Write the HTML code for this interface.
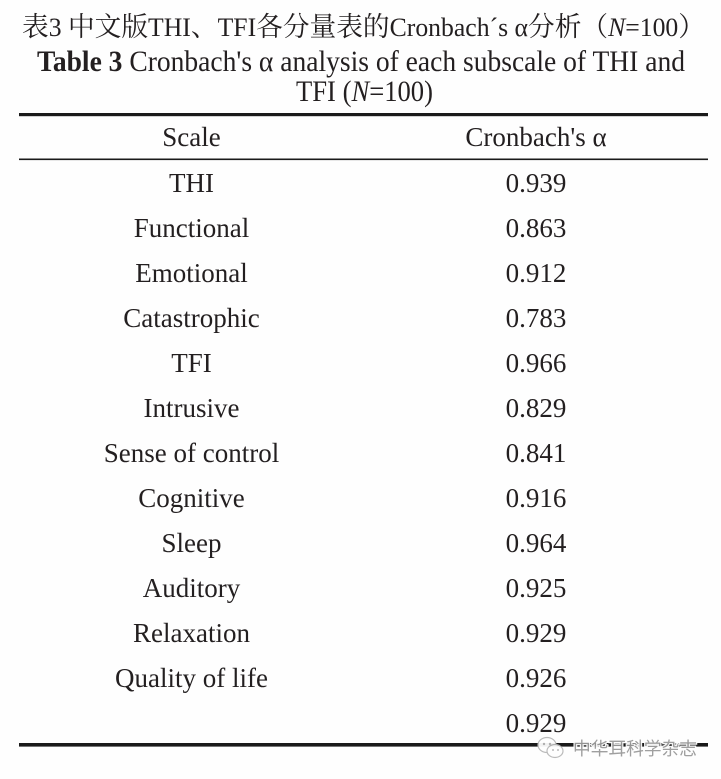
<!DOCTYPE html>
<html>
<head>
<meta charset="utf-8">
<style>
  html, body { margin:0; padding:0; background:#fefefe; }
  body { width:721px; height:779px; overflow:hidden; }
  svg { display:block; }
  .t { font-family:"Liberation Serif","Noto Serif CJK SC",serif; fill:#231f20; }
</style>
</head>
<body>
<svg width="721" height="779" viewBox="0 0 721 779" xmlns="http://www.w3.org/2000/svg">
  <rect x="0" y="0" width="721" height="779" fill="#fefefe"/>

  <!-- Title line 1 -->
  <text class="t" x="22" y="36" font-size="26" textLength="683" lengthAdjust="spacingAndGlyphs"><tspan font-family="Noto Serif CJK SC, serif" font-size="27">表</tspan>3  <tspan font-family="Noto Serif CJK SC, serif" font-size="27">中文版</tspan>THI<tspan font-family="Noto Serif CJK SC, serif" font-size="27">、</tspan>TFI<tspan font-family="Noto Serif CJK SC, serif" font-size="27">各分量表的</tspan>Cronbach´s α<tspan font-family="Noto Serif CJK SC, serif" font-size="27">分析（</tspan><tspan font-style="italic">N</tspan>=100<tspan font-family="Noto Serif CJK SC, serif" font-size="27">）</tspan></text>

  <!-- Title line 2 -->
  <text class="t" x="37" y="71" font-size="30" textLength="648" lengthAdjust="spacingAndGlyphs"><tspan font-weight="bold">Table 3</tspan>  Cronbach's α analysis of each subscale of THI and</text>

  <!-- Title line 3 -->
  <text class="t" x="296" y="101" font-size="30" textLength="137" lengthAdjust="spacingAndGlyphs">TFI (<tspan font-style="italic">N</tspan>=100)</text>

  <!-- Rules -->
  <rect x="19" y="113" width="689" height="3.2" fill="#1a1a1a"/>
  <rect x="19" y="158.5" width="689" height="1.6" fill="#1a1a1a"/>
  <rect x="19" y="743" width="689" height="3.6" fill="#1a1a1a"/>

  <!-- Header -->
  <text class="t" x="191.5" y="146" font-size="27" text-anchor="middle">Scale</text>
  <text class="t" x="536" y="146" font-size="27" text-anchor="middle">Cronbach's α</text>

  <!-- Rows -->
  <g class="t" font-size="27" text-anchor="middle">
    <text x="191.5" y="192">THI</text>
    <text x="191.5" y="237">Functional</text>
    <text x="191.5" y="282">Emotional</text>
    <text x="191.5" y="327">Catastrophic</text>
    <text x="191.5" y="372">TFI</text>
    <text x="191.5" y="417">Intrusive</text>
    <text x="191.5" y="462">Sense of control</text>
    <text x="191.5" y="507">Cognitive</text>
    <text x="191.5" y="552">Sleep</text>
    <text x="191.5" y="597">Auditory</text>
    <text x="191.5" y="642">Relaxation</text>
    <text x="191.5" y="687">Quality of life</text>

    <text x="536" y="192">0.939</text>
    <text x="536" y="237">0.863</text>
    <text x="536" y="282">0.912</text>
    <text x="536" y="327">0.783</text>
    <text x="536" y="372">0.966</text>
    <text x="536" y="417">0.829</text>
    <text x="536" y="462">0.841</text>
    <text x="536" y="507">0.916</text>
    <text x="536" y="552">0.964</text>
    <text x="536" y="597">0.925</text>
    <text x="536" y="642">0.929</text>
    <text x="536" y="687">0.926</text>
    <text x="536" y="732">0.929</text>
  </g>

  <!-- Watermark -->
  <g opacity="0.95">
    <ellipse cx="547" cy="745" rx="9" ry="7.5" fill="#fefefe" stroke="#b8b8b8" stroke-width="1.2"/>
    <ellipse cx="555" cy="751" rx="8" ry="6.5" fill="#fefefe" stroke="#b8b8b8" stroke-width="1.2"/>
    <circle cx="544" cy="744" r="1.2" fill="#b8b8b8"/>
    <circle cx="550" cy="744" r="1.2" fill="#b8b8b8"/>
    <circle cx="553" cy="750" r="1" fill="#b8b8b8"/>
    <circle cx="558" cy="750" r="1" fill="#b8b8b8"/>
    <text x="573" y="755" font-size="18" textLength="124" lengthAdjust="spacingAndGlyphs" font-family="Noto Sans CJK SC, sans-serif" fill="#9a9a9a" stroke="#fefefe" stroke-width="2.5" paint-order="stroke">中华耳科学杂志</text>
  </g>
</svg>
</body>
</html>
